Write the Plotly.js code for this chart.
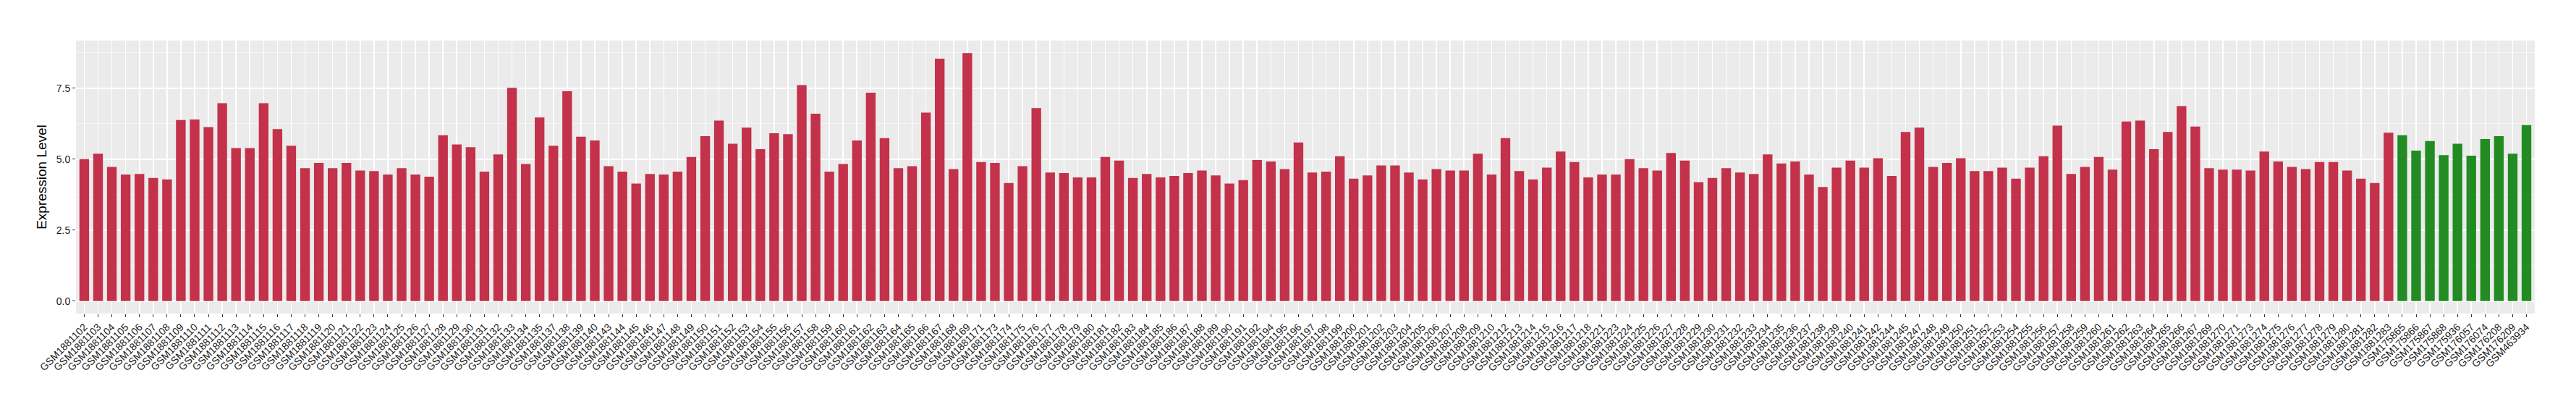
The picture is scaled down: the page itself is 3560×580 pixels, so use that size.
<!DOCTYPE html>
<html>
<head>
<meta charset="utf-8">
<script src="https://cdn.plot.ly/plotly-3.0.1.min.js"></script>
<style>html,body{margin:0;padding:0;background:#fff;}#chart{width:3560px;height:580px;}</style>
</head>
<body>
<div id="chart"></div>
<script>
// Red group samples
const redSamples = [
"GSM1881102","GSM1881103","GSM1881104","GSM1881105","GSM1881106","GSM1881107","GSM1881108","GSM1881109","GSM1881110","GSM1881111",
"GSM1881112","GSM1881113","GSM1881114","GSM1881115","GSM1881116","GSM1881117","GSM1881118","GSM1881119","GSM1881120","GSM1881121",
"GSM1881122","GSM1881123","GSM1881124","GSM1881125","GSM1881126","GSM1881127","GSM1881128","GSM1881129","GSM1881130","GSM1881131",
"GSM1881132","GSM1881133","GSM1881134","GSM1881135","GSM1881137","GSM1881138","GSM1881139","GSM1881140","GSM1881143","GSM1881144",
"GSM1881145","GSM1881146","GSM1881147","GSM1881148","GSM1881149","GSM1881150","GSM1881151","GSM1881152","GSM1881153","GSM1881154",
"GSM1881155","GSM1881156","GSM1881157","GSM1881158","GSM1881159","GSM1881160","GSM1881161","GSM1881162","GSM1881163","GSM1881164",
"GSM1881165","GSM1881166","GSM1881167","GSM1881168","GSM1881169","GSM1881171","GSM1881173","GSM1881174","GSM1881175","GSM1881176",
"GSM1881177","GSM1881178","GSM1881179","GSM1881180","GSM1881181","GSM1881182","GSM1881183","GSM1881184","GSM1881185","GSM1881186",
"GSM1881187","GSM1881188","GSM1881189","GSM1881190","GSM1881191","GSM1881192","GSM1881194","GSM1881195","GSM1881196","GSM1881197",
"GSM1881198","GSM1881199","GSM1881200","GSM1881201","GSM1881202","GSM1881203","GSM1881204","GSM1881205","GSM1881206","GSM1881207",
"GSM1881208","GSM1881209","GSM1881210","GSM1881212","GSM1881213","GSM1881214","GSM1881215","GSM1881216","GSM1881217","GSM1881218",
"GSM1881221","GSM1881223","GSM1881224","GSM1881225","GSM1881226","GSM1881227","GSM1881228","GSM1881229","GSM1881230","GSM1881231",
"GSM1881232","GSM1881233","GSM1881234","GSM1881235","GSM1881236","GSM1881237","GSM1881238","GSM1881239","GSM1881240","GSM1881241",
"GSM1881242","GSM1881244","GSM1881245","GSM1881247","GSM1881248","GSM1881249","GSM1881250","GSM1881251","GSM1881252","GSM1881253",
"GSM1881254","GSM1881255","GSM1881256","GSM1881257","GSM1881258","GSM1881259","GSM1881260","GSM1881261","GSM1881262","GSM1881263",
"GSM1881264","GSM1881265","GSM1881266","GSM1881267","GSM1881269","GSM1881270","GSM1881271","GSM1881273","GSM1881274","GSM1881275",
"GSM1881276","GSM1881277","GSM1881278","GSM1881279","GSM1881280","GSM1881281","GSM1881282","GSM1881283"
];
const redValues = [
5.00,5.19,4.73,4.46,4.48,4.34,4.29,6.38,6.40,6.13,
6.97,5.39,5.39,6.97,6.06,5.47,4.68,4.87,4.68,4.87,
4.60,4.58,4.46,4.68,4.46,4.38,5.84,5.52,5.42,4.56,
5.17,7.51,4.83,6.47,5.47,7.39,5.79,5.66,4.75,4.56,
4.14,4.48,4.46,4.56,5.08,5.81,6.36,5.54,6.11,5.35,
5.91,5.88,7.61,6.60,4.56,4.83,5.66,7.34,5.74,4.68,
4.75,6.64,8.54,4.65,8.74,4.90,4.87,4.16,4.75,6.80,
4.53,4.51,4.36,4.36,5.08,4.95,4.34,4.48,4.36,4.41,
4.51,4.60,4.43,4.14,4.26,4.97,4.92,4.65,5.59,4.53,
4.56,5.10,4.31,4.43,4.78,4.78,4.53,4.29,4.65,4.60,
4.60,5.19,4.46,5.74,4.58,4.29,4.70,5.27,4.90,4.36,
4.46,4.46,5.00,4.68,4.60,5.22,4.95,4.19,4.34,4.68,
4.53,4.48,5.17,4.85,4.92,4.46,4.02,4.70,4.95,4.70,
5.03,4.41,5.96,6.11,4.73,4.87,5.03,4.58,4.58,4.70,
4.31,4.70,5.10,6.18,4.48,4.73,5.08,4.63,6.33,6.36,
5.35,5.96,6.87,6.15,4.68,4.63,4.63,4.60,5.27,4.92,
4.73,4.65,4.90,4.90,4.60,4.31,4.16,5.93
];
// Green group samples
const greenSamples = ["GSM175865","GSM175866","GSM175867","GSM175868","GSM175936","GSM176057","GSM176074","GSM176208","GSM176209","GSM463934"];
const greenValues = [5.84,5.30,5.64,5.14,5.54,5.12,5.71,5.81,5.19,6.20];

const yTickVals = [0, 2.5, 5, 7.5];
const yTickText = ["0.0", "2.5", "5.0", "7.5"];

const allSamples = redSamples.concat(greenSamples);
const font = "Liberation Sans, Arial, Helvetica, sans-serif";

const traces = [
  {type: "bar", x: redSamples, y: redValues, marker: {color: "#C3314A"}, width: 0.7, showlegend: false, hoverinfo: "x+y"},
  {type: "bar", x: greenSamples, y: greenValues, marker: {color: "#228B22"}, width: 0.7, showlegend: false, hoverinfo: "x+y"}
];

const layout = {
  width: 3560, height: 580,
  margin: {l: 105, r: 57, t: 56, b: 147, pad: 0},
  paper_bgcolor: "#FFFFFF",
  plot_bgcolor: "#EBEBEB",
  barmode: "overlay",
  showlegend: false,
  font: {family: font, color: "#1A1A1A"},
  xaxis: {
    type: "category",
    categoryorder: "array",
    categoryarray: allSamples,
    range: [-0.6, allSamples.length - 0.4],
    tickangle: -45,
    tickfont: {family: font, size: 14, color: "#1A1A1A"},
    ticks: "outside", ticklen: 4, tickwidth: 1, tickcolor: "#333333",
    showgrid: true, gridcolor: "#FFFFFF", gridwidth: 1.6,
    zeroline: false, showline: false, automargin: false
  },
  yaxis: {
    range: [-0.437, 9.177],
    tickvals: yTickVals, ticktext: yTickText,
    tickfont: {family: font, size: 14, color: "#1A1A1A"},
    ticks: "outside", ticklen: 4, tickwidth: 1, tickcolor: "#333333",
    showgrid: true, gridcolor: "#FFFFFF", gridwidth: 1.6,
    minor: {dtick: 1.25, tick0: 0, showgrid: true, gridcolor: "#F7F7F7", gridwidth: 0.8, ticks: ""},
    zeroline: false, showline: false, automargin: false,
    title: {text: "Expression Level", font: {family: font, size: 19, color: "#000000"}, standoff: 8}
  }
};

Plotly.newPlot("chart", traces, layout, {displayModeBar: false, staticPlot: true});
</script>
</body>
</html>
